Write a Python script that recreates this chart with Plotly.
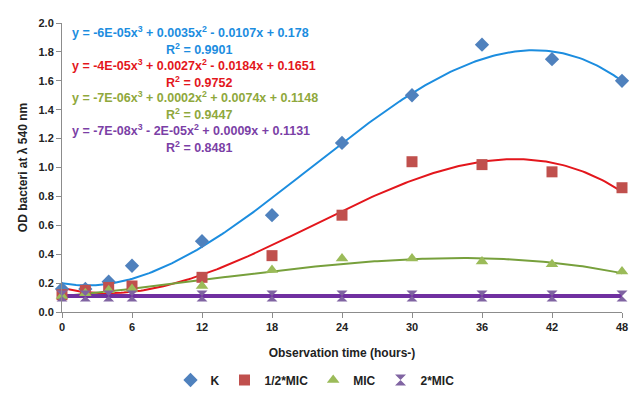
import numpy as np
import plotly.graph_objects as go

hours = [0, 2, 4, 6, 12, 18, 24, 30, 36, 42, 48]
k_vals = [0.16, 0.16, 0.21, 0.32, 0.49, 0.67, 1.17, 1.50, 1.85, 1.75, 1.60]
half_mic = [0.12, 0.15, 0.17, 0.18, 0.24, 0.39, 0.67, 1.04, 1.02, 0.97, 0.86]
mic = [0.11, 0.13, 0.15, 0.16, 0.18, 0.29, 0.37, 0.37, 0.35, 0.33, 0.28]
two_mic = [0.11, 0.11, 0.11, 0.11, 0.11, 0.11, 0.11, 0.11, 0.11, 0.11, 0.11]

names = ["K", "1/2*MIC", "MIC", "2*MIC"]
series = [k_vals, half_mic, mic, two_mic]
marker_colors = ["#4f81bd", "#c0504d", "#9bbb59", "#8064a2"]
symbols = ["diamond", "square", "triangle-up", "hourglass"]
trend_colors = ["#1c8ddf", "#e3161c", "#77a03c", "#7030a0"]
trend_widths = [2, 2, 2, 4]
equations = [
    "y = -6E-05x<sup>3</sup> + 0.0035x<sup>2</sup> - 0.0107x + 0.178",
    "y = -4E-05x<sup>3</sup> + 0.0027x<sup>2</sup> - 0.0184x + 0.1651",
    "y = -7E-06x<sup>3</sup> + 0.0002x<sup>2</sup> + 0.0074x + 0.1148",
    "y = -7E-08x<sup>3</sup> - 2E-05x<sup>2</sup> + 0.0009x + 0.1131",
]
r2 = ["R<sup>2</sup> = 0.9901", "R<sup>2</sup> = 0.9752", "R<sup>2</sup> = 0.9447", "R<sup>2</sup> = 0.8481"]
eq_colors = ["#1c8ddf", "#e3161c", "#8fa83c", "#7b3fa6"]

fig = go.Figure()
xs = np.linspace(0, 48, 200)
for vals, col, w in zip(series, trend_colors, trend_widths):
    c = np.polyfit(hours, vals, 3)
    fig.add_trace(go.Scatter(x=xs, y=np.polyval(c, xs), mode="lines",
                             line=dict(color=col, width=w), showlegend=False,
                             hoverinfo="skip"))
for name, vals, col, sym in zip(names, series, marker_colors, symbols):
    fig.add_trace(go.Scatter(x=hours, y=vals, mode="markers", name=name,
                             marker=dict(color=col, symbol=sym, size=11,
                                         line=dict(width=0)),
                             cliponaxis=False))

TOP, BOT = 23, 312
H = BOT - TOP
font = dict(family="Liberation Sans", size=11, color="#222", weight="bold")
ys = [32.5, 49, 65, 81.5, 97.5, 114, 130, 146.5]
ann = []
for i in range(4):
    ann.append(dict(x=0.015, xref="paper", y=(BOT - ys[2 * i]) / H, yref="paper",
                    text=equations[i], showarrow=False, xanchor="left", yanchor="middle",
                    font=dict(family="Liberation Sans", size=12.5, color=eq_colors[i], weight="bold")))
    ann.append(dict(x=0.245, xref="paper", y=(BOT - ys[2 * i + 1]) / H, yref="paper",
                    text=r2[i], showarrow=False, xanchor="center", yanchor="middle",
                    font=dict(family="Liberation Sans", size=12.5, color=eq_colors[i], weight="bold")))

fig.update_layout(
    width=630, height=397,
    margin=dict(l=62, r=8, t=TOP, b=397 - BOT, autoexpand=False),
    plot_bgcolor="white", paper_bgcolor="white",
    font=font,
    annotations=ann,
    xaxis=dict(range=[0, 48], tickvals=[0, 6, 12, 18, 24, 30, 36, 42, 48],
               showgrid=False, zeroline=False, showline=True, linecolor="#8c8c8c",
               ticks="outside", ticklen=5, tickcolor="#8c8c8c",
               title=dict(text="Observation time (hours-)", standoff=16,
                          font=dict(family="Liberation Sans", size=12, color="#222", weight="bold"))),
    yaxis=dict(range=[0, 2.0], dtick=0.2, tickformat=".1f",
               showgrid=False, zeroline=False, showline=True, linecolor="#8c8c8c",
               ticks="outside", ticklen=5, tickcolor="#8c8c8c",
               title=dict(text="OD bacteri at λ 540 nm", standoff=8,
                          font=dict(family="Liberation Sans", size=12, color="#222", weight="bold"))),
    legend=dict(orientation="h", x=0.5, xanchor="center", xref="container",
                y=(397 - 380) / 397, yanchor="middle", yref="container",
                font=dict(family="Liberation Sans", size=12, color="#222", weight="bold"),
                itemwidth=30, tracegroupgap=0),
)

fig.write_html("out.html")
